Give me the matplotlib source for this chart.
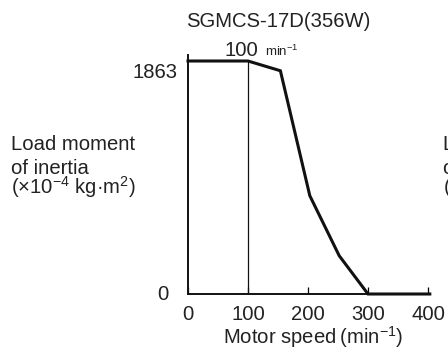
import matplotlib
matplotlib.use("Agg")
import matplotlib.pyplot as plt
import matplotlib.transforms as mtransforms

plt.rcParams['font.family'] = ['Liberation Sans', 'DejaVu Sans']
plt.rcParams['mathtext.default'] = 'regular'

# motor speed (min^-1) vs allowable load moment of inertia (x10^-4 kg m^2)
speed = [0, 100, 154, 203, 252, 300, 403]
inertia = [1863, 1863, 1785, 786, 306, 0, 0]
rated_speed = 100
max_inertia = 1863
xticks = [0, 100, 200, 300, 400]

fs = 14.6
fig = plt.figure(figsize=(4.48, 3.51), dpi=100)
ax = fig.add_axes([188 / 448, 57 / 351, 241.8 / 448, 239 / 351])

ax.plot(speed, inertia, color='#111111', lw=2.2, solid_joinstyle='miter', clip_on=False, zorder=3)
ax.vlines(rated_speed, 0, max_inertia, color='#111111', lw=0.9)

ax.set_xlim(0, 403)
ax.set_ylim(0, 1911)
for s in ['top', 'right']:
    ax.spines[s].set_visible(False)
for s in ['left', 'bottom']:
    ax.spines[s].set_linewidth(1.4)
    ax.spines[s].set_color('#111111')

ax.set_xticks(xticks)
ax.set_xticklabels([str(t) for t in xticks], fontsize=fs, color='#222222')
ax.tick_params(axis='x', direction='in', length=5, width=0.9, pad=8)
ax.set_yticks([])

# y value labels
tr = mtransforms.blended_transform_factory(fig.transFigure, ax.transData)
off = mtransforms.ScaledTranslation(0, -8.6 / 72, fig.dpi_scale_trans)
ax.text(177 / 448, max_inertia, '1863', transform=tr + off, ha='right', va='center',
        fontsize=fs, color='#222222')
ax.text(168 / 448, 0, '0', transform=tr, ha='right', va='center', fontsize=fs, color='#222222')

fig.text(313 / 448, 1 - 344 / 351, 'Motor speed\u2009(min$^{-1}$)', ha='center', va='baseline',
         fontsize=fs, color='#222222')

fig.text(278 / 448, 1 - 27 / 351, 'SGMCS-17D(356W)', ha='center', va='baseline', fontsize=fs, color='#222222')

# rated speed annotation
fig.text(258 / 448, 1 - 56 / 351, '100', ha='right', va='baseline', fontsize=fs, color='#222222')
fig.text(265 / 448, 1 - 56 / 351, 'min$^{-1}$', ha='left', va='baseline', fontsize=9.5, color='#222222')

# y axis title (and the cut-off one of the neighbouring chart)
for x0 in [11, 443]:
    fig.text(x0 / 448, 1 - 150 / 351, 'Load moment', ha='left', va='baseline', fontsize=fs, color='#222222')
    fig.text(x0 / 448, 1 - 174 / 351, 'of inertia', ha='left', va='baseline', fontsize=fs, color='#222222')
    fig.text(x0 / 448, 1 - 194 / 351, '(\u00d710$^{-4}$ kg\u00b7m$^{2}$)', ha='left', va='baseline',
             fontsize=fs, color='#222222')

fig.savefig('out.png', dpi=100)
